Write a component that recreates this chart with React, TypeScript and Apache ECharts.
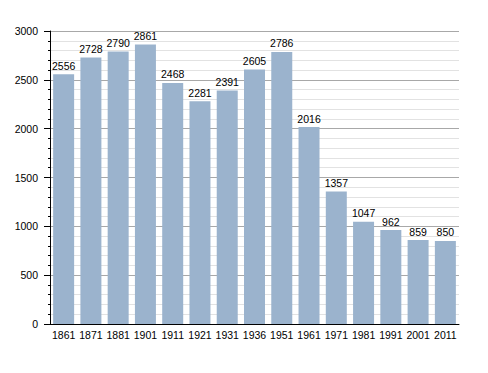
import React, { useEffect, useRef } from "react";
import * as echarts from "echarts";

const years = ["1861", "1871", "1881", "1901", "1911", "1921", "1931", "1936", "1951", "1961", "1971", "1981", "1991", "2001", "2011"];
const population = [2556, 2728, 2790, 2861, 2468, 2281, 2391, 2605, 2786, 2016, 1357, 1047, 962, 859, 850];
const yTicks = { min: 0, max: 3000, interval: 500 };

export default function App() {
  const ref = useRef<HTMLDivElement>(null);
  useEffect(() => {
    if (!ref.current) return;
    const chart = echarts.init(ref.current, undefined, { renderer: "svg" });
    chart.setOption({
      animation: false,
      textStyle: { fontFamily: "Liberation Sans, Arial, sans-serif" },
      grid: { left: 50, right: 29, top: 31, bottom: 49 },
      xAxis: {
        type: "category",
        data: years,
        axisLine: { show: true, lineStyle: { color: "#000", width: 1 } },
        axisTick: { show: false },
        axisLabel: { color: "#000", fontSize: 10.5, margin: 5, interval: 0 },
      },
      yAxis: {
        type: "value",
        min: yTicks.min,
        max: yTicks.max,
        interval: yTicks.interval,
        axisLine: { show: true, lineStyle: { color: "#000", width: 1 } },
        axisTick: { show: true, length: 6, lineStyle: { color: "#000" } },
        minorTick: { show: true, splitNumber: 5, length: 2, lineStyle: { color: "#000" } },
        splitLine: { show: true, lineStyle: { color: "#a8a8a8", width: 1 } },
        minorSplitLine: { show: true, lineStyle: { color: "#e2e2e2", width: 1 } },
        axisLabel: { color: "#000", fontSize: 10.5, margin: 12, formatter: (v: number) => String(v) },
      },
      series: [
        {
          type: "bar",
          data: population,
          barCategoryGap: "23%",
          itemStyle: { color: "#9bb3cd" },
          label: { show: true, position: "top", color: "#000", fontSize: 10.5, distance: 3 },
        },
      ],
    });
    return () => chart.dispose();
  }, []);
  return <div ref={ref} style={{ position: "absolute", left: 0, top: 0, width: 488, height: 373 }} />;
}
